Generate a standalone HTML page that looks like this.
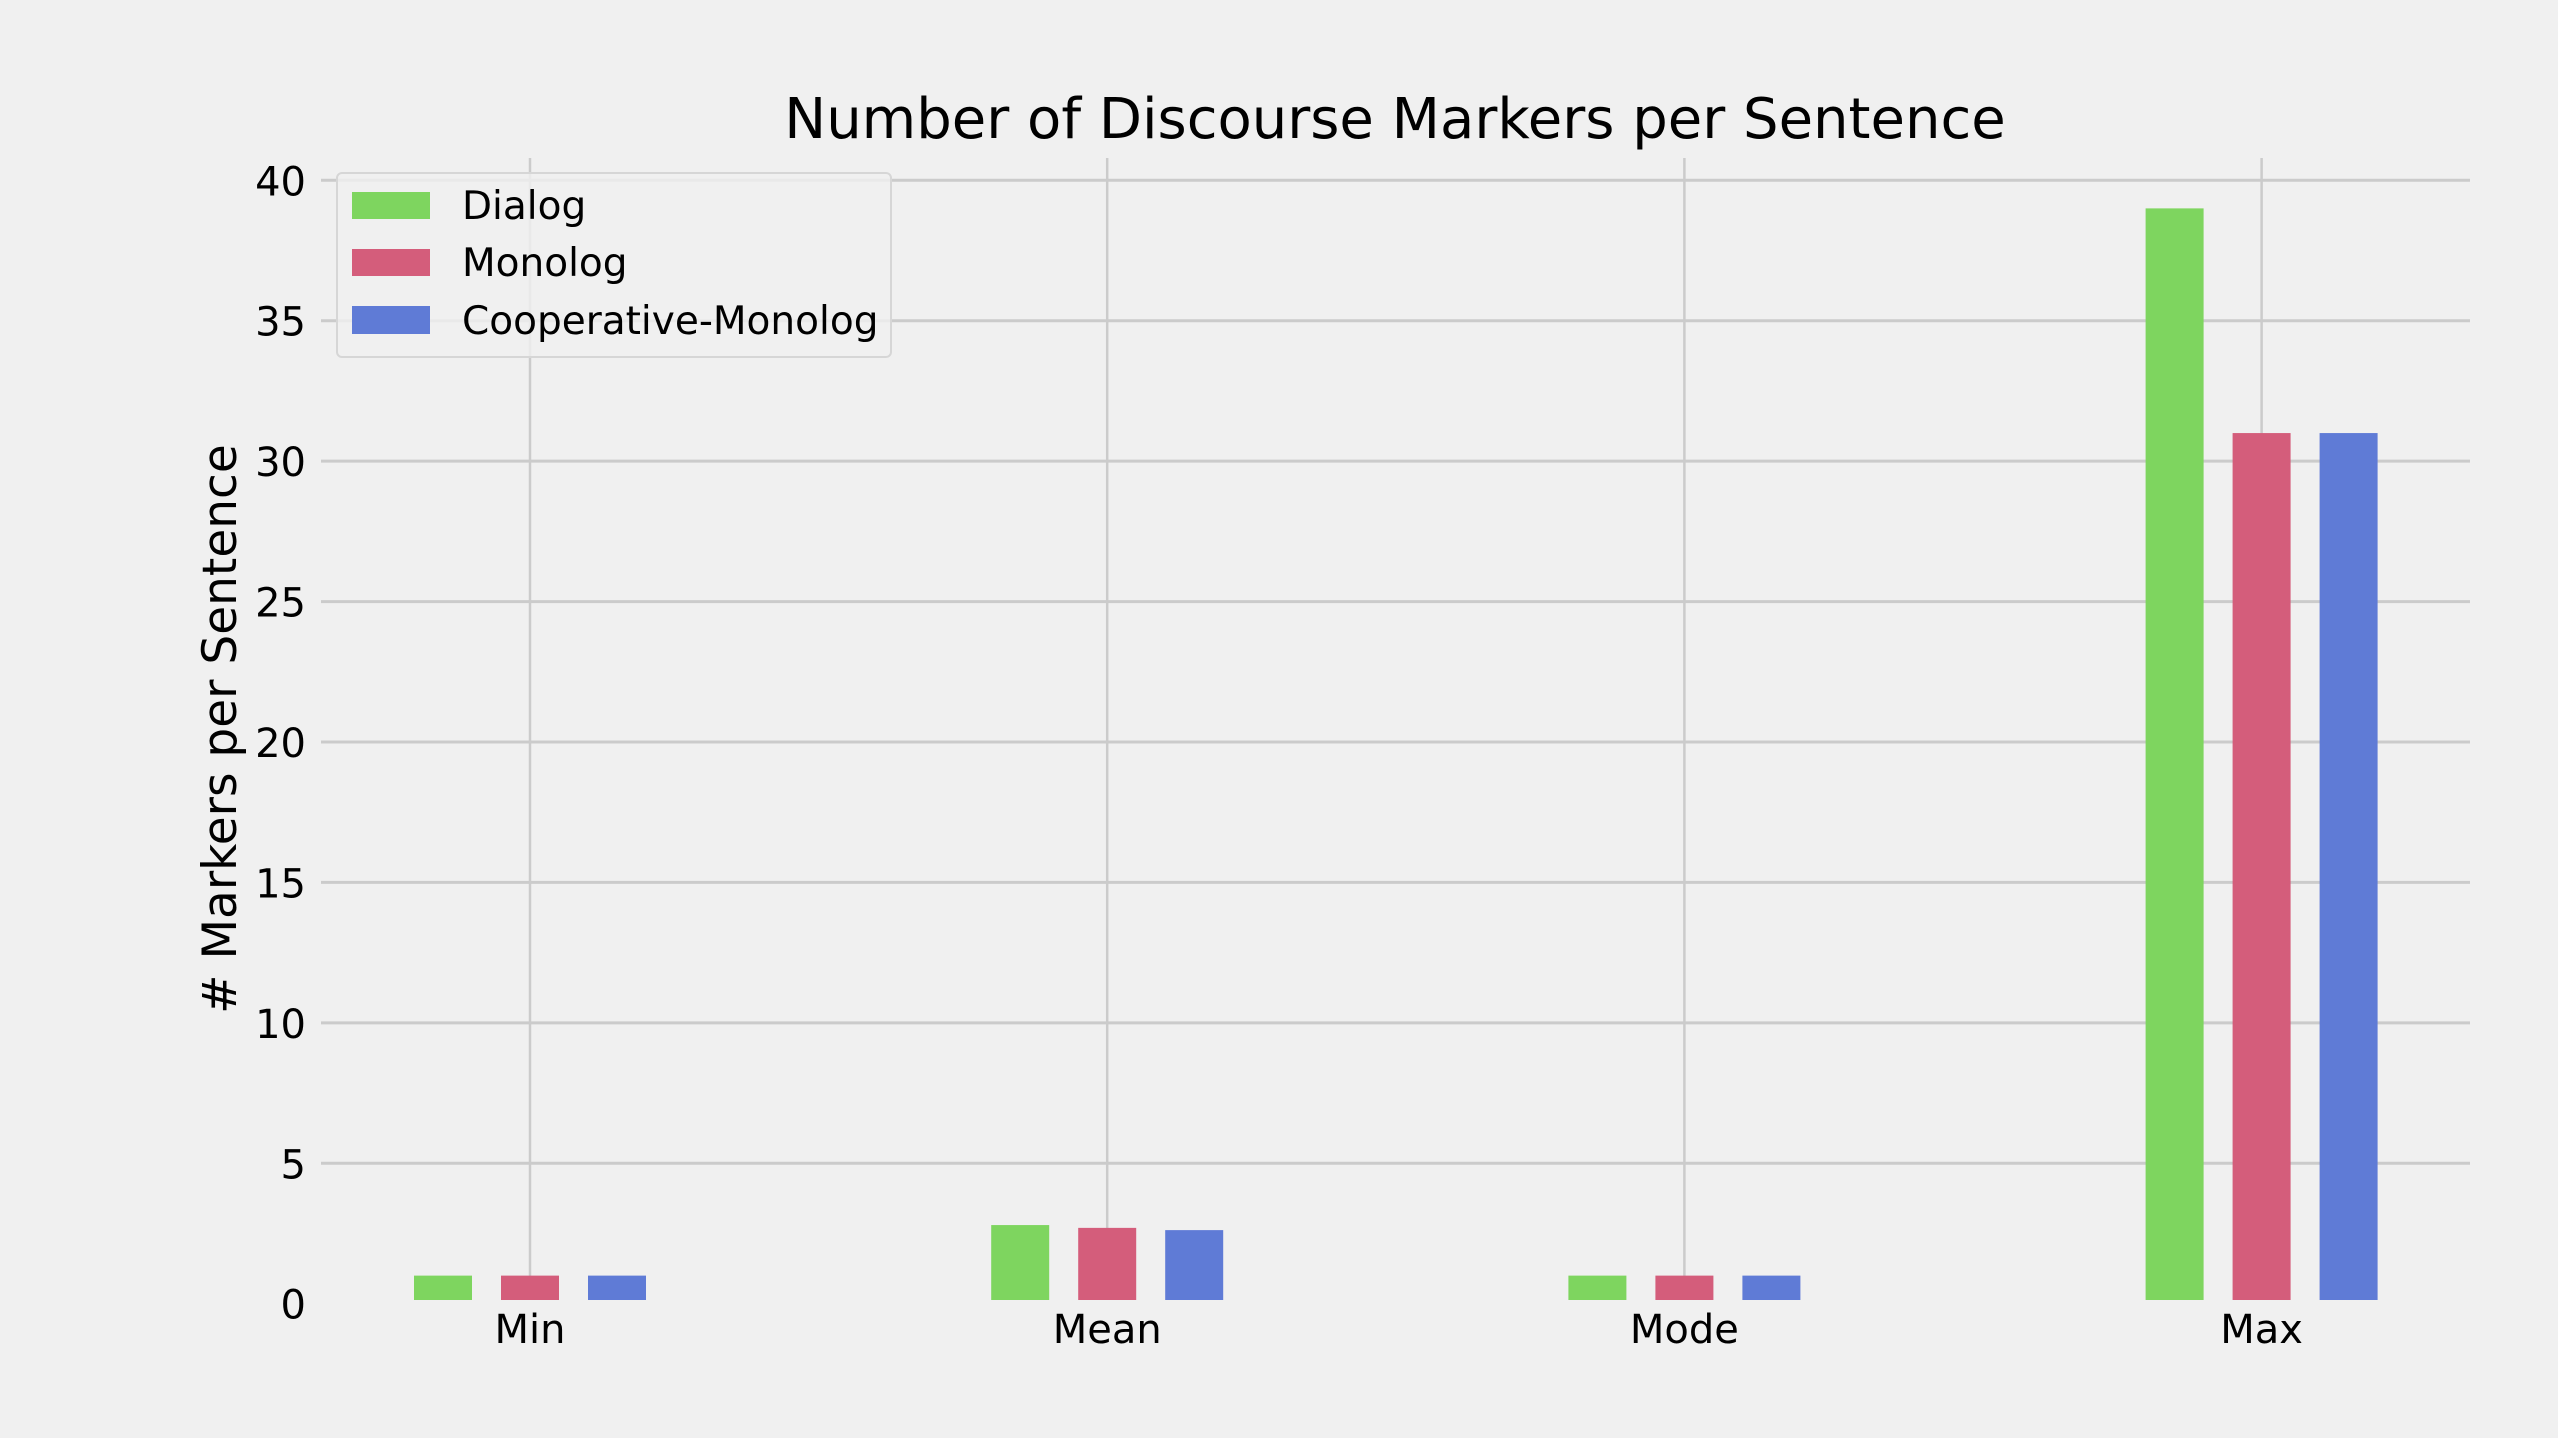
<!DOCTYPE html>
<html><head><meta charset="utf-8"><style>
html,body{margin:0;padding:0;background:#f0f0f0;}
svg{display:block;font-family:"DejaVu Sans","Liberation Sans",sans-serif;}
</style></head><body>
<svg id="chart" width="2558" height="1438" viewBox="0 0 2558 1438">
<rect x="0" y="0" width="2558" height="1438" fill="#f0f0f0"/>
<text x="1395" y="138" font-size="56" text-anchor="middle" fill="#000">Number of Discourse Markers per Sentence</text>
<text transform="translate(236,729) rotate(-90)" font-size="47" text-anchor="middle" fill="#000"># Markers per Sentence</text>
<g id="grid"></g><g id="bars"></g><g id="ticks"></g>
<g>
<rect x="337" y="173" width="554" height="184" rx="5" fill="#f0f0f0" fill-opacity="0.8" stroke="#d6d6d6" stroke-width="2"/>
<rect x="352" y="192" width="78" height="27" fill="#7ed55f"/>
<text x="462" y="219" font-size="39">Dialog</text>
<rect x="352" y="249" width="78" height="27" fill="#d45d7b"/>
<text x="462" y="276" font-size="39">Monolog</text>
<rect x="352" y="306" width="78" height="28" fill="#5f7bd6"/>
<text x="462" y="334" font-size="39">Cooperative-Monolog</text>
</g>
</svg>
<script>
const categories = ["Min","Mean","Mode","Max"];
const seriesNames = ["Dialog","Monolog","Cooperative-Monolog"];
const dialog = [1, 2.8, 1, 39];
const monolog = [1, 2.7, 1, 31];
const coopMonolog = [1, 2.62, 1, 31];
const yTicks = [0,5,10,15,20,25,30,35,40];

const NS="http://www.w3.org/2000/svg";
const colors=["#7ed55f","#d45d7b","#5f7bd6"];
const series=[dialog,monolog,coopMonolog];
const plotL=321, plotR=2470, plotTop=158, plotBottom=1300;
function yS(v){return 1303.7-(1303.7-180.3)*v/40;}
function xS(i){return 530+577.2*i;}
const barW=58, off=87;
function mk(tag,attrs,parent){const e=document.createElementNS(NS,tag);for(const k in attrs)e.setAttribute(k,attrs[k]);parent.appendChild(e);return e;}
const grid=document.getElementById('grid'),bars=document.getElementById('bars'),ticks=document.getElementById('ticks');
yTicks.forEach(t=>{
  const y=yS(t);
  if(y<plotBottom){
    const l=mk('line',{x1:plotL,x2:plotR,y1:y,y2:y,stroke:'#cbcbcb','stroke-width':3},grid);
    
    
  }
  const tx=mk('text',{x:306,y:y+15,'font-size':40,'text-anchor':'end'},ticks);
  tx.textContent=t;
  
  
});
categories.forEach((c,i)=>{
  const x=xS(i);
  const l=mk('line',{x1:x,x2:x,y1:plotTop,y2:plotBottom,stroke:'#cbcbcb','stroke-width':2.5},grid);
  
  
  const tx=mk('text',{x:x,y:1343,'font-size':40,'text-anchor':'middle'},ticks);
  tx.textContent=c;
  
  
  series.forEach((s,j)=>{
    const top=yS(s[i]);
    const r=mk('rect',{x:x+(j-1)*off-barW/2,y:top,width:barW,height:Math.max(0,plotBottom-top),fill:colors[j]},bars);
    
    
  });
});
</script>
</body></html>
